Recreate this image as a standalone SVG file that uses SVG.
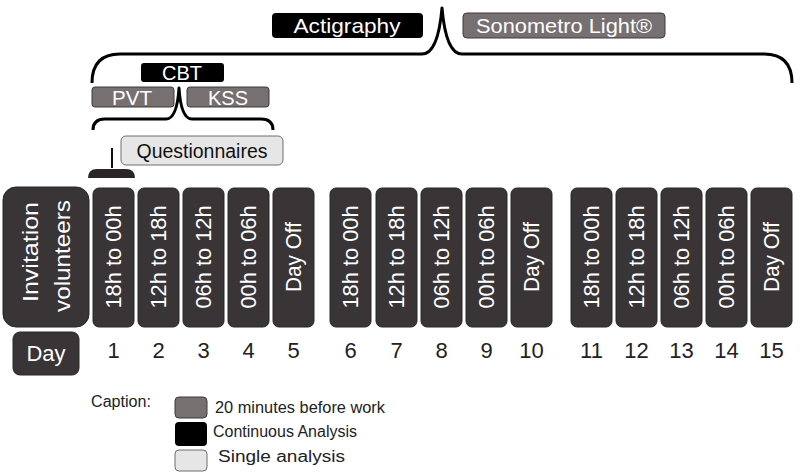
<svg xmlns="http://www.w3.org/2000/svg" width="800" height="473" viewBox="0 0 800 473">
<style>
text{font-family:"Liberation Sans",Arial,sans-serif}
.day{fill:#393435;stroke:#2a2627;stroke-width:1}
.dt{fill:#fff;font-size:22px;text-anchor:middle;dominant-baseline:central}
.num{fill:#222;font-size:22px;text-anchor:middle}
.gray{fill:#767071;stroke:#3e3a3b;stroke-width:1}
.black{fill:#000}
.light{fill:#e6e6e6;stroke:#6e6e6e;stroke-width:1}
.wt{fill:#fff;font-size:21px;text-anchor:middle}
.bt{fill:#111;font-size:20px;text-anchor:middle}
.brace{fill:none;stroke:#000;stroke-width:3;stroke-linejoin:round}
.cap{fill:#222;font-size:16px}
</style>
<rect width="800" height="473" fill="#fff"/>
<g id="connectors">
<path class="brace" d="M92 83 Q92 54 120 54 L422 54 Q438 54 442 8 Q446 54 462 54 L764 54 Q792 54 792 83"/>
<path class="brace" d="M93 130 Q93 119 105 119 L166 119 Q177 119 179 88 Q181 119 192 119 L261 119 Q273 119 273 130"/>
<path d="M112 148 L112 168" fill="none" stroke="#111" stroke-width="2"/>
<path d="M88 178 Q88 169 97 169 L126 169 Q135 169 135 178 Z" fill="#2a2627"/>
</g>
<g id="actigraphy"><rect class="black" x="272" y="13" width="151" height="25" rx="4"/><text class="wt" x="347" y="33" textLength="107" lengthAdjust="spacingAndGlyphs">Actigraphy</text></g>
<g id="sonometro"><rect class="gray" x="463" y="13" width="202" height="25" rx="4"/><text class="wt" x="564" y="33" textLength="176" lengthAdjust="spacingAndGlyphs">Sonometro Light®</text></g>
<g id="cbt"><rect class="black" x="141" y="63" width="83" height="19" rx="3"/><text class="wt" x="182" y="80" textLength="40" lengthAdjust="spacingAndGlyphs">CBT</text></g>
<g id="pvt"><rect class="gray" x="92" y="87" width="82" height="20" rx="3"/><text class="wt" x="132" y="105" textLength="40" lengthAdjust="spacingAndGlyphs">PVT</text></g>
<g id="kss"><rect class="gray" x="187" y="87" width="82" height="20" rx="3"/><text class="wt" x="228" y="105" textLength="40" lengthAdjust="spacingAndGlyphs">KSS</text></g>
<g id="questionnaires"><rect class="light" x="121" y="136" width="162" height="29" rx="5"/><text class="bt" x="202" y="158" textLength="131" lengthAdjust="spacingAndGlyphs">Questionnaires</text></g>
<g id="invitation"><rect class="day" x="3" y="187" width="86" height="140" rx="13"/>
<text class="dt" transform="translate(30 252) rotate(-90)" textLength="100" lengthAdjust="spacingAndGlyphs">Invitation</text>
<text class="dt" transform="translate(62 256) rotate(-90)" textLength="112" lengthAdjust="spacingAndGlyphs">volunteers</text></g>
<g id="day-label"><rect class="day" x="13" y="332" width="66" height="43" rx="7"/><text class="dt" x="46" y="353" font-size="22">Day</text></g>
<g id="d1"><rect class="day" x="93" y="188" width="41" height="139" rx="6"/><text class="dt" transform="translate(113.5 257) rotate(-90)" textLength="103" lengthAdjust="spacingAndGlyphs">18h to 00h</text><text class="num" x="113.5" y="358">1</text></g>
<g id="d2"><rect class="day" x="138" y="188" width="41" height="139" rx="6"/><text class="dt" transform="translate(158.5 257) rotate(-90)" textLength="103" lengthAdjust="spacingAndGlyphs">12h to 18h</text><text class="num" x="158.5" y="358">2</text></g>
<g id="d3"><rect class="day" x="183" y="188" width="41" height="139" rx="6"/><text class="dt" transform="translate(203.5 257) rotate(-90)" textLength="103" lengthAdjust="spacingAndGlyphs">06h to 12h</text><text class="num" x="203.5" y="358">3</text></g>
<g id="d4"><rect class="day" x="228" y="188" width="41" height="139" rx="6"/><text class="dt" transform="translate(248.5 257) rotate(-90)" textLength="103" lengthAdjust="spacingAndGlyphs">00h to 06h</text><text class="num" x="248.5" y="358">4</text></g>
<g id="d5"><rect class="day" x="273" y="188" width="41" height="139" rx="6"/><text class="dt" transform="translate(293.5 257) rotate(-90)" textLength="70" lengthAdjust="spacingAndGlyphs">Day Off</text><text class="num" x="293.5" y="358">5</text></g>
<g id="d6"><rect class="day" x="330" y="188" width="41" height="139" rx="6"/><text class="dt" transform="translate(350.5 257) rotate(-90)" textLength="103" lengthAdjust="spacingAndGlyphs">18h to 00h</text><text class="num" x="350.5" y="358">6</text></g>
<g id="d7"><rect class="day" x="376" y="188" width="41" height="139" rx="6"/><text class="dt" transform="translate(396.5 257) rotate(-90)" textLength="103" lengthAdjust="spacingAndGlyphs">12h to 18h</text><text class="num" x="396.5" y="358">7</text></g>
<g id="d8"><rect class="day" x="421" y="188" width="41" height="139" rx="6"/><text class="dt" transform="translate(441.5 257) rotate(-90)" textLength="103" lengthAdjust="spacingAndGlyphs">06h to 12h</text><text class="num" x="441.5" y="358">8</text></g>
<g id="d9"><rect class="day" x="466" y="188" width="41" height="139" rx="6"/><text class="dt" transform="translate(486.5 257) rotate(-90)" textLength="103" lengthAdjust="spacingAndGlyphs">00h to 06h</text><text class="num" x="486.5" y="358">9</text></g>
<g id="d10"><rect class="day" x="511" y="188" width="41" height="139" rx="6"/><text class="dt" transform="translate(531.5 257) rotate(-90)" textLength="70" lengthAdjust="spacingAndGlyphs">Day Off</text><text class="num" x="531.5" y="358">10</text></g>
<g id="d11"><rect class="day" x="571" y="188" width="41" height="139" rx="6"/><text class="dt" transform="translate(591.5 257) rotate(-90)" textLength="103" lengthAdjust="spacingAndGlyphs">18h to 00h</text><text class="num" x="591.5" y="358">11</text></g>
<g id="d12"><rect class="day" x="616" y="188" width="41" height="139" rx="6"/><text class="dt" transform="translate(636.5 257) rotate(-90)" textLength="103" lengthAdjust="spacingAndGlyphs">12h to 18h</text><text class="num" x="636.5" y="358">12</text></g>
<g id="d13"><rect class="day" x="661" y="188" width="41" height="139" rx="6"/><text class="dt" transform="translate(681.5 257) rotate(-90)" textLength="103" lengthAdjust="spacingAndGlyphs">06h to 12h</text><text class="num" x="681.5" y="358">13</text></g>
<g id="d14"><rect class="day" x="706" y="188" width="41" height="139" rx="6"/><text class="dt" transform="translate(726.5 257) rotate(-90)" textLength="103" lengthAdjust="spacingAndGlyphs">00h to 06h</text><text class="num" x="726.5" y="358">14</text></g>
<g id="d15"><rect class="day" x="751" y="188" width="41" height="139" rx="6"/><text class="dt" transform="translate(771.5 257) rotate(-90)" textLength="70" lengthAdjust="spacingAndGlyphs">Day Off</text><text class="num" x="771.5" y="358">15</text></g>
<g id="caption">
<text class="cap" x="91" y="407" textLength="60" lengthAdjust="spacingAndGlyphs">Caption:</text>
<rect class="gray" x="175" y="397" width="32" height="21" rx="4"/>
<rect class="black" x="175" y="422" width="32" height="24" rx="4"/>
<rect class="light" x="175" y="450" width="32" height="21" rx="4"/>
<text class="cap" x="215" y="413" textLength="170" lengthAdjust="spacingAndGlyphs">20 minutes before work</text>
<text class="cap" x="213" y="437" textLength="144" lengthAdjust="spacingAndGlyphs">Continuous Analysis</text>
<text class="cap" x="218" y="462" textLength="127" lengthAdjust="spacingAndGlyphs">Single analysis</text>
</g>
</svg>
